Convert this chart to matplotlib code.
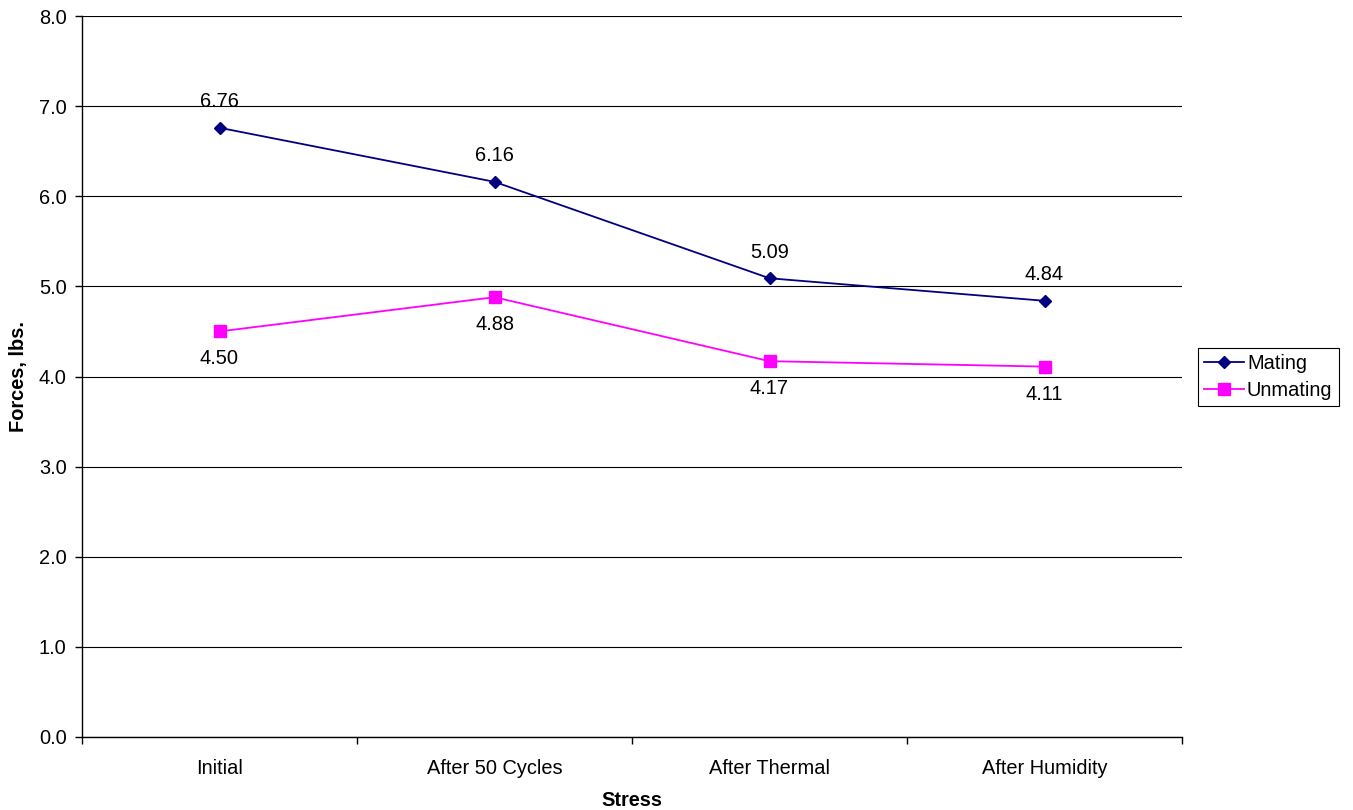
import matplotlib
matplotlib.use("Agg")
import matplotlib.pyplot as plt

categories = ["Initial", "After 50 Cycles", "After Thermal", "After Humidity"]
mating = [6.76, 6.16, 5.09, 4.84]
unmating = [4.50, 4.88, 4.17, 4.11]
yticks = [0.0, 1.0, 2.0, 3.0, 4.0, 5.0, 6.0, 7.0, 8.0]

plt.rcParams['font.family'] = ['Liberation Sans', 'DejaVu Sans']
fs = 14.4

fig = plt.figure(figsize=(13.53, 8.10), dpi=100)
ax = fig.add_axes([82/1353, 73/810, 1100/1353, 721/810])

x = list(range(len(categories)))
ax.plot(x, mating, color='#000080', marker='D', markersize=6, linewidth=1.3, label='Mating', zorder=3)
ax.plot(x, unmating, color='#FF00FF', marker='s', markersize=8, linewidth=1.3, label='Unmating', zorder=3)

for xi, v in zip(x, mating):
    ax.annotate(f"{v:.2f}", (xi, v), xytext=(0, 12), textcoords='offset points',
                ha='center', va='bottom', fontsize=fs)
for xi, v in zip(x, unmating):
    ax.annotate(f"{v:.2f}", (xi, v), xytext=(0, -13), textcoords='offset points',
                ha='center', va='top', fontsize=fs)

ax.set_xlim(-0.5, len(categories) - 0.5)
ax.set_ylim(0, 8)
ax.set_yticks(yticks)
ax.set_yticklabels([f"{t:.1f}" for t in yticks], fontsize=fs)
ax.set_xticks(x)
ax.set_xticklabels(categories, fontsize=fs)
ax.tick_params(axis='x', which='major', length=0, pad=16)
ax.set_xticks([i - 0.5 for i in range(len(categories) + 1)], minor=True)
ax.tick_params(axis='x', which='minor', length=5, direction='out', width=1)
ax.tick_params(axis='y', length=5, direction='out', width=1, pad=6)

ax.grid(axis='y', color='black', linewidth=0.8)
ax.set_axisbelow(True)
for s in ['top', 'right']:
    ax.spines[s].set_visible(False)
for s in ['left', 'bottom']:
    ax.spines[s].set_color('black')
    ax.spines[s].set_linewidth(1)

ax.set_xlabel("Stress", fontsize=fs, fontweight='bold', labelpad=9)
ax.set_ylabel("Forces, lbs.", fontsize=fs, fontweight='bold', labelpad=8)

leg = fig.legend(loc='center left', bbox_to_anchor=(1198/1353, 1 - 377/810), fontsize=fs,
                 frameon=True, fancybox=False, edgecolor='black', framealpha=1,
                 handlelength=2.0, handletextpad=0.15, borderpad=0.3, labelspacing=0.4,
                 borderaxespad=0)
leg.get_frame().set_linewidth(0.8)

fig.savefig("out.png", dpi=100)
